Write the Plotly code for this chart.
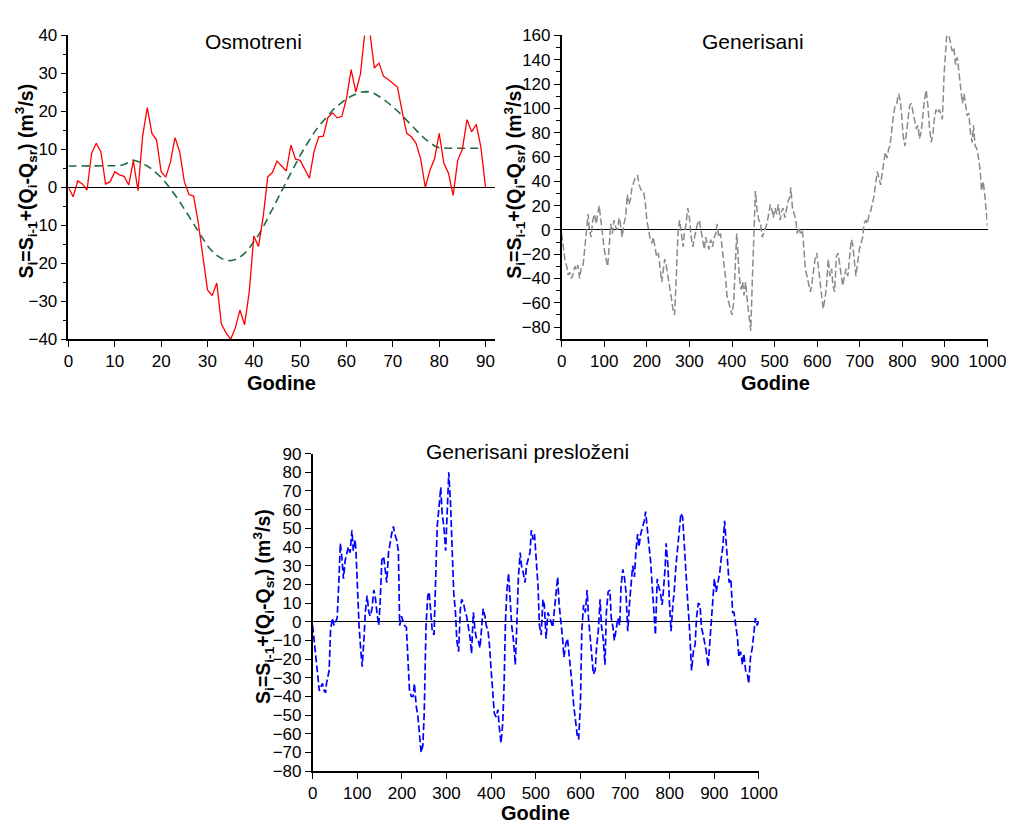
import plotly.graph_objects as go

# ---------------- data ----------------
obs_years = list(range(0, 91))
obs_values = [0, -2.5, 1.7, 0.9, -0.7, 9, 11.6, 9.3, 0.9, 1.5,
              4.1, 3.3, 2.9, 0.6, 7, -0.9, 13.5, 21, 14.2, 12.5,
              4.1, 2.7, 6.7, 13.1, 9.3, 1.5, -1.9, -2.3, -9.2, -17.8,
              -27, -28.5, -25.2, -36, -38.3, -40, -37, -32.3, -36.2, -27.6,
              -12.8, -15.6, -7.9, 2.8, 3.9, 6.9, 5.6, 4.3, 11.1, 7.4,
              7.1, 4.7, 2.4, 9.5, 13.3, 13.5, 18.4, 19.6, 18.3, 18.7,
              23.4, 31, 25.1, 29.8, 41.3, 41.3, 31.4, 32.7, 29.2, 28.4,
              27.4, 26.4, 20, 14.2, 13.3, 11.6, 7.5, 0, 4.5, 7.5,
              14.2, 6.4, 3.7, -2.1, 7.1, 10.1, 17.8, 14.6, 16.6, 10.5, 0]

trend_years = list(range(0, 90))
trend_values = [5.6, 5.6, 5.6, 5.6, 5.6, 5.6, 5.6, 5.6, 5.6, 5.6,
                5.6, 5.7, 6.0, 6.6, 7.2, 6.8, 6.3, 5.6, 4.8, 3.8,
                2.6, 1.2, -0.3, -2.0, -3.8, -5.6, -7.6, -9.6, -11.6, -13.6,
                -15.4, -16.8, -17.9, -18.7, -19.2, -19.3, -19.0, -18.4, -17.4, -16.0,
                -14.3, -12.6, -10.5, -8.2, -5.8, -3.4, -1.0, 1.4, 3.8, 6.2,
                8.4, 10.5, 12.5, 14.4, 16.1, 17.6, 19.0, 20.3, 21.4, 22.4,
                23.3, 24.0, 24.6, 25.0, 25.2, 25.1, 24.7, 24.0, 23.2, 22.2,
                21.2, 20.1, 18.9, 17.6, 16.3, 15.0, 13.8, 12.7, 11.7, 10.9,
                10.4, 10.3, 10.3, 10.3, 10.3, 10.3, 10.3, 10.3, 10.3, 10.3]

gen_years = [0, 4, 8, 12, 15, 19, 23, 27, 31, 35, 38, 42, 46, 50, 54, 58, 62, 65, 69, 73,
             77, 81, 85, 88, 92, 96, 100, 104, 108, 112, 115, 119, 123, 127, 131, 135, 138, 142, 146, 150,
             154, 158, 162, 165, 169, 173, 178, 182, 186, 192, 196, 200, 204, 208, 212, 215, 219, 223, 227, 231,
             235, 238, 242, 246, 250, 254, 258, 262, 265, 269, 273, 277, 281, 285, 288, 292, 296, 300, 304, 308,
             312, 315, 319, 323, 327, 331, 335, 338, 342, 346, 350, 354, 358, 362, 365, 369, 373, 377, 381, 385,
             388, 392, 396, 400, 404, 408, 411, 413, 417, 421, 425, 428, 432, 436, 440, 444, 448, 452, 455, 459,
             463, 467, 471, 474, 478, 482, 486, 490, 494, 497, 501, 505, 509, 513, 517, 520, 524, 528, 532, 536,
             538, 542, 546, 550, 553, 557, 561, 565, 569, 572, 576, 580, 584, 588, 592, 595, 599, 603, 607, 611,
             614, 618, 622, 626, 630, 634, 637, 641, 645, 649, 653, 656, 660, 664, 668, 672, 676, 680, 683, 687,
             691, 695, 699, 703, 707, 710, 714, 718, 722, 726, 729, 733, 737, 741, 745, 749, 752, 756, 760, 764,
             768, 771, 775, 779, 783, 787, 791, 795, 798, 802, 806, 810, 814, 817, 821, 825, 829, 833, 837, 840,
             844, 848, 852, 856, 860, 864, 868, 872, 875, 879, 883, 887, 890, 894, 898, 902, 906, 909, 913, 917,
             921, 925, 929, 933, 937, 941, 945, 949, 952, 956, 960, 964, 967, 971, 975, 979, 983, 986, 990, 994,
             998, 1000]
gen_values = [-3, -15, -26, -30, -37, -35, -40, -36, -30, -33, -29, -40, -31, -30, -16, -6, 13, 0, -6, 8,
              13, 5, 16, 20, 8, -6, -16, -24, -30, -11, 5, -3, 8, 2, 0, 10, 5, -6, 5, 10,
              29, 21, 26, 35, 40, 43, 45, 37, 33, 32, 24, 8, 0, -8, -11, -6, -14, -22, -19, -30,
              -43, -35, -24, -30, -38, -46, -57, -67, -70, -40, -3, 8, -3, -14, -3, 5, 18, 10, -6, -14,
              -6, 0, 5, 8, 0, -6, -16, -6, -11, -16, -8, -14, -6, -3, 5, -6, -3, -14, -27, -40,
              -54, -59, -65, -70, -59, -24, -3, -14, -38, -49, -43, -54, -43, -59, -70, -83, -38, 0, 32, 16,
              8, 5, -6, -3, 2, 5, 13, 21, 16, 10, 18, 13, 21, 8, 16, 18, 10, 18, 24, 27,
              35, 18, 13, 8, -3, 2, -3, 0, -16, -32, -38, -46, -51, -43, -30, -24, -19, -32, -46, -54,
              -65, -57, -46, -24, -38, -32, -46, -51, -22, -19, -30, -35, -46, -38, -32, -38, -22, -8, -11, -27,
              -38, -27, -16, -11, -6, 5, 8, 5, 13, 16, 21, 27, 37, 48, 43, 37, 45, 53, 64, 59,
              67, 69, 83, 94, 102, 104, 112, 107, 96, 77, 69, 80, 94, 102, 104, 96, 91, 83, 86, 75,
              80, 96, 107, 115, 102, 83, 72, 80, 91, 99, 96, 99, 96, 91, 128, 155, 169, 161, 155, 147,
              150, 136, 142, 128, 118, 104, 112, 102, 94, 96, 80, 72, 86, 69, 67, 59, 48, 32, 40, 27,
              10, 3]

mix_years = [0, 4, 7, 11, 15, 18, 22, 26, 29, 31, 34, 37, 40, 44, 48, 51, 55, 59, 62, 66,
             69, 73, 77, 80, 84, 88, 91, 95, 97, 100, 104, 108, 111, 115, 118, 122, 126, 129, 133, 137,
             140, 144, 148, 151, 155, 159, 162, 166, 170, 173, 177, 181, 184, 188, 192, 195, 199, 203, 206, 210,
             214, 217, 221, 225, 228, 232, 236, 239, 243, 247, 250, 254, 258, 261, 265, 268, 272, 276, 279, 283,
             287, 290, 294, 298, 301, 305, 309, 312, 316, 320, 323, 327, 331, 334, 338, 342, 345, 349, 353, 356,
             360, 364, 367, 371, 375, 378, 382, 386, 389, 393, 396, 400, 404, 407, 411, 415, 418, 422, 426, 429,
             432, 435, 439, 443, 446, 450, 454, 457, 461, 465, 468, 472, 476, 479, 483, 487, 490, 494, 497, 501,
             505, 508, 512, 516, 519, 523, 527, 530, 534, 538, 541, 545, 549, 552, 556, 560, 563, 567, 571, 574,
             578, 581, 585, 589, 593, 596, 600, 603, 607, 611, 615, 618, 622, 625, 629, 633, 636, 640, 644, 647,
             651, 655, 658, 662, 666, 669, 673, 676, 680, 684, 688, 691, 695, 699, 702, 706, 710, 713, 717, 721,
             724, 728, 731, 735, 739, 743, 746, 750, 753, 757, 761, 765, 768, 772, 775, 779, 783, 786, 790, 792,
             796, 799, 803, 807, 810, 814, 818, 822, 825, 829, 832, 836, 840, 844, 847, 849, 853, 857, 860, 864,
             868, 871, 875, 879, 882, 886, 890, 893, 897, 900, 904, 908, 912, 915, 919, 923, 926, 930, 933, 937,
             941, 944, 948, 952, 955, 959, 963, 966, 970, 974, 977, 981, 985, 988, 992, 996, 1000]
mix_values = [-2, -12, -19, -28, -37, -35, -33, -37, -38, -33, -30, -26, -5, 2, -2, 0, 2, 23, 42, 33,
              23, 33, 37, 40, 37, 49, 38, 44, 38, 19, -2, -16, -24, -9, 5, 14, 5, 3, 7, 17,
              14, 5, -2, 9, 33, 35, 28, 21, 37, 42, 47, 51, 47, 44, 38, -2, 3, 0, -2, -3,
              -23, -37, -40, -40, -33, -45, -51, -59, -70, -66, -49, -2, 14, 16, 5, -5, -7, 30, 51, 61,
              72, 58, 51, 38, 58, 80, 63, 37, 16, 5, -10, -16, 7, 12, 10, 5, 3, -3, -9, -17,
              5, -5, -9, -10, -14, -5, 7, 3, -2, -5, -12, -26, -37, -49, -51, -47, -56, -65, -54, -33,
              0, 16, 26, 12, -2, -10, -23, -5, 24, 37, 30, 26, 21, 30, 33, 37, 49, 44, 47, 33,
              19, -2, -7, 12, 9, -9, 5, 3, 0, -3, 5, 14, 24, 10, 2, -9, -19, -12, -9, -16,
              -24, -33, -45, -54, -61, -63, -44, -5, 9, 5, 17, 2, -10, -19, -28, -26, -14, -5, 12, -2,
              -9, -23, 5, 16, 17, 2, -3, -10, -5, 2, -2, 19, 28, 23, 16, -5, 10, 21, 30, 24,
              37, 47, 40, 47, 51, 54, 59, 51, 42, 33, 19, 5, -7, 23, 19, 16, 9, 17, 30, 42,
              30, 12, -5, 9, 16, 30, 40, 47, 58, 56, 42, 24, 12, -2, -19, -26, -16, -12, 2, 10,
              9, -3, -7, -12, -16, -24, -12, -2, 14, 23, 16, 21, 26, 33, 40, 54, 44, 33, 21, 23,
              5, 5, -2, -9, -19, -16, -23, -17, -26, -28, -33, -19, -14, -7, 2, -2, 1]

titles = ["Osmotreni", "Generisani", "Generisani presloženi"]
x_title = "Godine"
y_title = "<b>S<sub>i</sub>=S<sub>i-1</sub>+(Q<sub>i</sub>-Q<sub>sr</sub>) (m<sup>3</sup>/s)</b>"

# ---------------- figure ----------------
W, H = 1028, 834
FONT = "Arial, Liberation Sans, sans-serif"


def px(x):
    return x / W


def py(y):
    return 1 - y / H


fig = go.Figure()
fig.add_trace(go.Scatter(x=trend_years, y=trend_values, mode="lines",
                         line=dict(color="#1f6b45", width=1.6, dash="8px,5px"),
                         xaxis="x", yaxis="y"))
fig.add_trace(go.Scatter(x=obs_years, y=obs_values, mode="lines",
                         line=dict(color="#ff0000", width=1.3),
                         xaxis="x", yaxis="y"))
fig.add_trace(go.Scatter(x=gen_years, y=gen_values, mode="lines",
                         line=dict(color="#8a8a8a", width=1.5, dash="7px,3px"),
                         xaxis="x2", yaxis="y2"))
fig.add_trace(go.Scatter(x=mix_years, y=mix_values, mode="lines",
                         line=dict(color="#0000ff", width=1.7, dash="7px,3px"),
                         xaxis="x3", yaxis="y3"))

axis_common = dict(showline=True, linecolor="black", linewidth=1.5, ticks="outside",
                   ticklen=6, tickwidth=1.3, tickcolor="black", showgrid=False,
                   tickfont=dict(family=FONT, size=17, color="black"), mirror=False)

yzero = dict(zeroline=True, zerolinecolor="black", zerolinewidth=1.4)
minor_y1 = dict(ticks="outside", ticklen=4, tickcolor="black", dtick=5, tick0=0)
minor_y2 = dict(ticks="outside", ticklen=4, tickcolor="black", dtick=10, tick0=0)

fig.update_layout(
    width=W, height=H,
    margin=dict(l=0, r=0, t=0, b=0),
    paper_bgcolor="white", plot_bgcolor="white",
    showlegend=False,
    font=dict(family=FONT, color="black"),
    xaxis=dict(domain=[px(65), px(502)], range=[0, 92.1], dtick=10, tick0=0,
               anchor="y", zeroline=False, **axis_common),
    yaxis=dict(domain=[py(338), py(27)], range=[-40, 40], dtick=10, tick0=0,
               anchor="x", minor=minor_y1, **yzero, **axis_common),
    xaxis2=dict(domain=[px(570), px(1006)], range=[0, 1000], dtick=100, tick0=0,
                anchor="y2", zeroline=False, **axis_common),
    yaxis2=dict(domain=[py(338), py(27)], range=[-90, 160], dtick=20, tick0=0,
                anchor="x2", minor=minor_y2, **yzero, **axis_common),
    xaxis3=dict(domain=[px(315), px(772)], range=[0, 1000], dtick=100, tick0=0,
                anchor="y3", zeroline=False, **axis_common),
    yaxis3=dict(domain=[py(780), py(455)], range=[-80, 90], dtick=10, tick0=0,
                anchor="x3", **yzero, **axis_common),
)

ann = []
for t, (x, y) in zip(titles, [(254, 33), (766, 33), (535, 453)]):
    ann.append(dict(text=t, x=px(x), y=py(y), xref="paper", yref="paper",
                    xanchor="center", yanchor="middle", showarrow=False,
                    font=dict(family=FONT, size=21, color="black")))
for (x, y) in [(283, 383), (789, 383), (543, 823)]:
    ann.append(dict(text="<b>" + x_title + "</b>", x=px(x), y=py(y), xref="paper", yref="paper",
                    xanchor="center", yanchor="middle", showarrow=False,
                    font=dict(family=FONT, size=20, color="black")))
for (x, y) in [(22, 176), (522, 176), (264, 611)]:
    ann.append(dict(text=y_title, x=px(x), y=py(y), xref="paper", yref="paper",
                    xanchor="center", yanchor="middle", showarrow=False, textangle=-90,
                    font=dict(family=FONT, size=19.5, color="black")))
fig.update_layout(annotations=ann)

fig.write_html("out.html")
